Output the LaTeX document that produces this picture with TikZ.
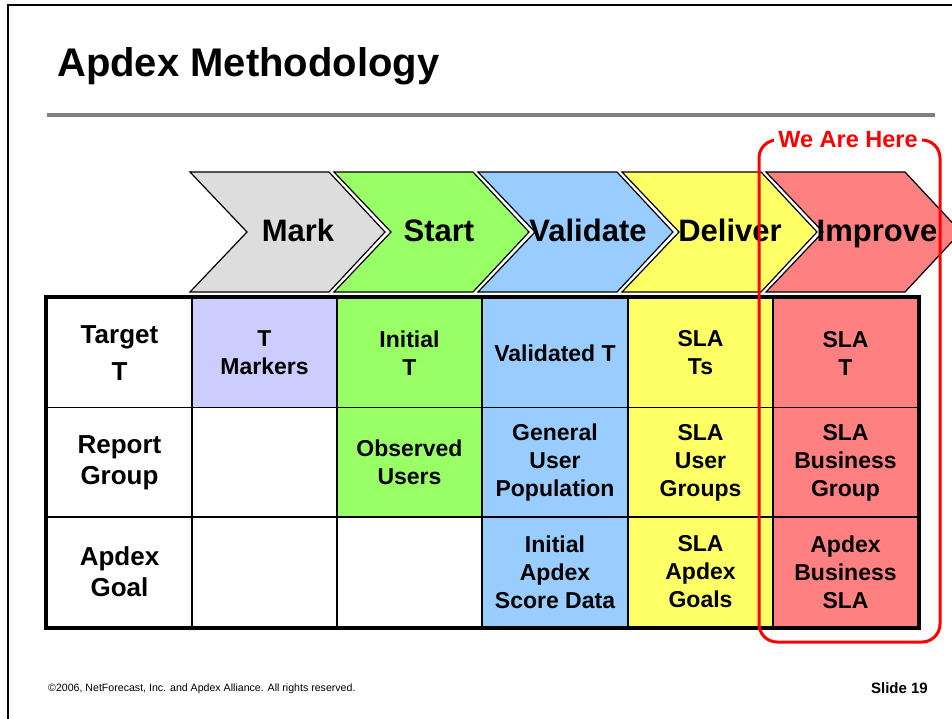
\documentclass[tikz,border=0pt]{standalone}
\usepackage{fontspec}
\setmainfont{Liberation Sans}
\definecolor{markgray}{RGB}{221,221,221}
\definecolor{startgreen}{RGB}{153,255,102}
\definecolor{validblue}{RGB}{153,204,255}
\definecolor{deliveryellow}{RGB}{255,255,102}
\definecolor{improvered}{RGB}{255,128,128}
\definecolor{markerlilac}{RGB}{204,204,255}
\begin{document}
\begin{tikzpicture}[x=1pt,y=-1pt,
  chevron/.style={fill=#1,draw=black,line width=1.2pt},
  stage/.style={anchor=base,inner sep=0pt,font=\fontsize{31}{37}\selectfont\bfseries},
  cell/.style={fill=#1,draw=black,line width=1.6pt,minimum width=145pt,minimum height=109.7pt,
    inner sep=0pt,align=center,font=\fontsize{23}{28}\selectfont\bfseries},
  rowhead/.style={cell=white,font=\fontsize{26}{31}\selectfont\bfseries}]
\useasboundingbox (0,0) rectangle (952,719);
\clip (0,0) rectangle (952,719);
\fill[white] (0,0) rectangle (952,719);
\draw[line width=2.5pt] (8,5) rectangle (1000,800);
\node[anchor=base west,inner sep=0pt,font=\fontsize{40}{48}\selectfont\bfseries] (title) at (57,77) {Apdex Methodology};
\draw[line width=4pt,gray] (47,115) -- (935,115);
% the five stages
\draw[chevron=markgray] (190,172) -- ++(139,0) -- ++(56,60) -- ++(-56,60) -- ++(-139,0) -- ++(57,-60) -- cycle;
\draw[chevron=startgreen] (334,172) -- ++(139,0) -- ++(56,60) -- ++(-56,60) -- ++(-139,0) -- ++(57,-60) -- cycle;
\draw[chevron=validblue] (478,172) -- ++(139,0) -- ++(56,60) -- ++(-56,60) -- ++(-139,0) -- ++(57,-60) -- cycle;
\draw[chevron=deliveryellow] (622,172) -- ++(139,0) -- ++(56,60) -- ++(-56,60) -- ++(-139,0) -- ++(57,-60) -- cycle;
\draw[chevron=improvered] (766,172) -- ++(139,0) -- ++(56,60) -- ++(-56,60) -- ++(-139,0) -- ++(57,-60) -- cycle;
\node[stage] (mark) at (298,241) {Mark};
\node[stage] (start) at (439,241) {Start};
\node[stage] (validate) at (588,241) {Validate};
\node[stage] (deliver) at (730,241) {Deliver};
\node[stage] (improve) at (877,241) {Improve};
% table
\node[rowhead] (target) at (119.5,353) {Target\\[6pt]T};
\node[rowhead] (report) at (119.5,462.5) {Report\\Group};
\node[rowhead] (goal) at (119.5,572) {Apdex\\Goal};
\node[cell=markerlilac] (markT) at (264.5,353) {T\\Markers};
\node[cell=white] (markR) at (264.5,462.5) {};
\node[cell=white] (markG) at (264.5,572) {};
\node[cell=startgreen] (startT) at (409.5,353) {Initial\\T};
\node[cell=startgreen] (startR) at (409.5,462.5) {Observed\\Users};
\node[cell=white] (startG) at (409.5,572) {};
\node[cell=validblue] (validT) at (555,353) {Validated T};
\node[cell=validblue] (validR) at (555,462.5) {General\\User\\Population};
\node[cell=validblue] (validG) at (555,572) {Initial\\Apdex\\Score Data};
\node[cell=deliveryellow] (deliverT) at (700.5,353) {SLA\\Ts};
\node[cell=deliveryellow] (deliverR) at (700.5,462.5) {SLA\\User\\Groups};
\node[cell=deliveryellow] (deliverG) at (700.5,572) {SLA\\Apdex\\Goals};
\node[cell=improvered] (improveT) at (845.5,353) {SLA\\T};
\node[cell=improvered] (improveR) at (845.5,462.5) {SLA\\Business\\Group};
\node[cell=improvered] (improveG) at (845.5,572) {Apdex\\Business\\SLA};
\draw[line width=4pt] (target.north west) rectangle (improveG.south east);
% where we are
\draw[red,line width=3pt,rounded corners=18pt] (759,140) rectangle (940,642);
\node[fill=white,text=red,inner sep=4pt,font=\fontsize{23.5}{28}\selectfont\bfseries] (here) at (848,140) {We Are Here};
\node[anchor=base west,inner sep=0pt,font=\fontsize{10.6}{12}\selectfont] (copyright) at (48,691) {\textcopyright2006, NetForecast, Inc. and Apdex Alliance. All rights reserved.};
\node[anchor=base east,inner sep=0pt,font=\fontsize{15}{18}\selectfont\bfseries] (slide) at (928,693) {Slide 19};
\end{tikzpicture}
\end{document}
